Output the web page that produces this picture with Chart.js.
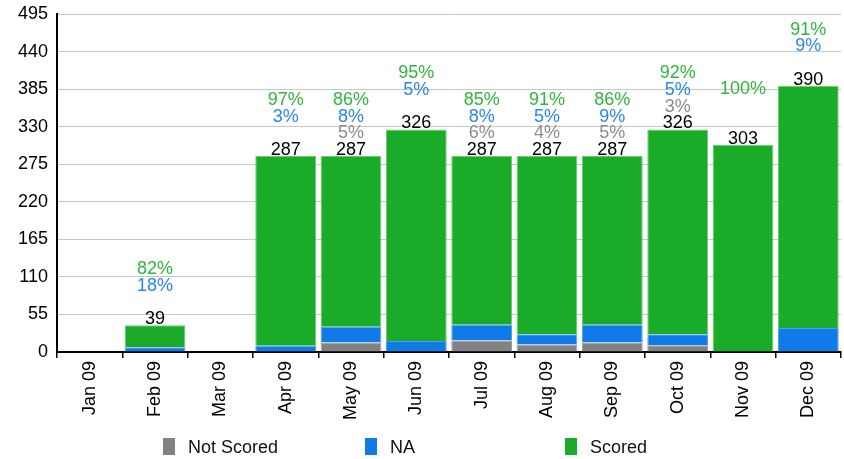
<!DOCTYPE html>
<html>
<head>
<meta charset="utf-8">
<script src="https://cdn.jsdelivr.net/npm/chart.js@4/dist/chart.umd.min.js"></script>
<style>
  html, body { margin: 0; padding: 0; background: #fff; }
  #wrap { position: relative; width: 844px; height: 459px; overflow: hidden; }
  #c { position: absolute; left: 0; top: 0; }
  .lg { position: absolute; top: 438px; height: 17px; font: 18px "Liberation Sans", Arial, sans-serif; color: #111; line-height: 17px; white-space: nowrap; }
  .lg i { position: absolute; left: 0; top: 0; width: 12px; height: 17px; }
  .lg span { position: absolute; left: 25px; top: 1px; }
</style>
</head>
<body>
<div id="wrap">
  <canvas id="c" width="844" height="459"></canvas>
  <div id="legend"></div>
</div>
<script>
const categories = ["Jan 09","Feb 09","Mar 09","Apr 09","May 09","Jun 09","Jul 09","Aug 09","Sep 09","Oct 09","Nov 09","Dec 09"];
const notScored = [0, 0, 0, 0, 14, 0, 17, 11, 14, 10, 0, 0];
const naValues  = [0, 7, 0, 9, 23, 16, 23, 15, 26, 16, 0, 35];
const scored    = [0, 32, 0, 278, 250, 310, 247, 261, 247, 300, 303, 355];
const totals    = [0, 39, 0, 287, 287, 326, 287, 287, 287, 326, 303, 390];
const pctNotScored = ["", "", "", "", "5%", "", "6%", "4%", "5%", "3%", "", ""];
const pctNA        = ["", "18%", "", "3%", "8%", "5%", "8%", "5%", "9%", "5%", "", "9%"];
const pctScored    = ["", "82%", "", "97%", "86%", "95%", "85%", "91%", "86%", "92%", "100%", "91%"];
const yTicks = [0, 55, 110, 165, 220, 275, 330, 385, 440, 495];
const seriesNames = ["Not Scored", "NA", "Scored"];

const FONT = '"Liberation Sans", Arial, sans-serif';
const colGray = "#828282", colBlue = "#0f7be9", colGreen = "#1aab28";
const txtGray = "#8c8c8c", txtBlue = "#2a86ea", txtGreen = "#2fb63c";

const labelPlugin = {
  id: "stackLabels",
  afterDatasetsDraw(chart) {
    const ctx = chart.ctx;
    const xs = chart.scales.x, ys = chart.scales.y;
    ctx.save();
    ctx.font = "18px " + FONT;
    ctx.textAlign = "center";
    ctx.textBaseline = "alphabetic";
    const step = 16.7;
    totals.forEach((t, i) => {
      if (!t) return;
      const x = xs.getPixelForValue(i);
      const base = ys.getPixelForValue(t) - 1;
      ctx.fillStyle = "#000";
      ctx.fillText(String(t), x, base);
      if (pctNotScored[i]) { ctx.fillStyle = txtGray; ctx.fillText(pctNotScored[i], x, base - step); }
      if (pctNA[i]) { ctx.fillStyle = txtBlue; ctx.fillText(pctNA[i], x, base - 2 * step); }
      if (pctScored[i]) { ctx.fillStyle = txtGreen; ctx.fillText(pctScored[i], x, base - 3 * step); }
    });
    ctx.restore();
  }
};

new Chart(document.getElementById("c"), {
  type: "bar",
  data: {
    labels: categories,
    datasets: [
      { label: seriesNames[0], data: notScored, backgroundColor: colGray, borderColor: "#9a9a9a", borderWidth: 1 },
      { label: seriesNames[1], data: naValues, backgroundColor: colBlue, borderColor: "#4f9ff0", borderWidth: 1 },
      { label: seriesNames[2], data: scored, backgroundColor: colGreen, borderColor: "#6ccb72", borderWidth: 1 }
    ]
  },
  options: {
    responsive: false,
    animation: false,
    devicePixelRatio: 1,
    layout: { padding: { top: 14, right: 3, left: 0, bottom: 0 } },
    datasets: { bar: { barPercentage: 0.93, categoryPercentage: 1.0 } },
    plugins: { legend: { display: false }, tooltip: { enabled: false } },
    scales: {
      x: {
        stacked: true,
        offset: true,
        grid: { display: true, drawOnChartArea: false, offset: true, color: "#000", tickLength: 6, lineWidth: 1.5 },
        border: { display: true, color: "#000", width: 2 },
        ticks: { color: "#000", font: { size: 18, family: FONT }, minRotation: 90, maxRotation: 90, autoSkip: false, padding: 3 },
        afterFit(s) { s.height = 107; s.paddingLeft = 0; s.paddingRight = 0; }
      },
      y: {
        stacked: true,
        min: 0,
        max: 495,
        afterBuildTicks(s) { s.ticks = yTicks.map(v => ({ value: v })); },
        grid: { color: "#c8c8c8", drawTicks: false, lineWidth: 1 },
        border: { display: true, color: "#000", width: 2 },
        ticks: { color: "#000", font: { size: 18, family: FONT }, padding: 9 },
        afterFit(s) { s.width = 57; s.paddingTop = 0; s.paddingBottom = 0; }
      }
    }
  },
  plugins: [labelPlugin]
});

const legendPos = [163, 365, 565];
const legendCols = [colGray, colBlue, colGreen];
const lg = document.getElementById("legend");
seriesNames.forEach((n, i) => {
  const d = document.createElement("div");
  d.className = "lg";
  d.style.left = legendPos[i] + "px";
  d.innerHTML = '<i style="background:' + legendCols[i] + '"></i><span></span>';
  d.querySelector("span").textContent = n;
  lg.appendChild(d);
});
</script>
</body>
</html>
